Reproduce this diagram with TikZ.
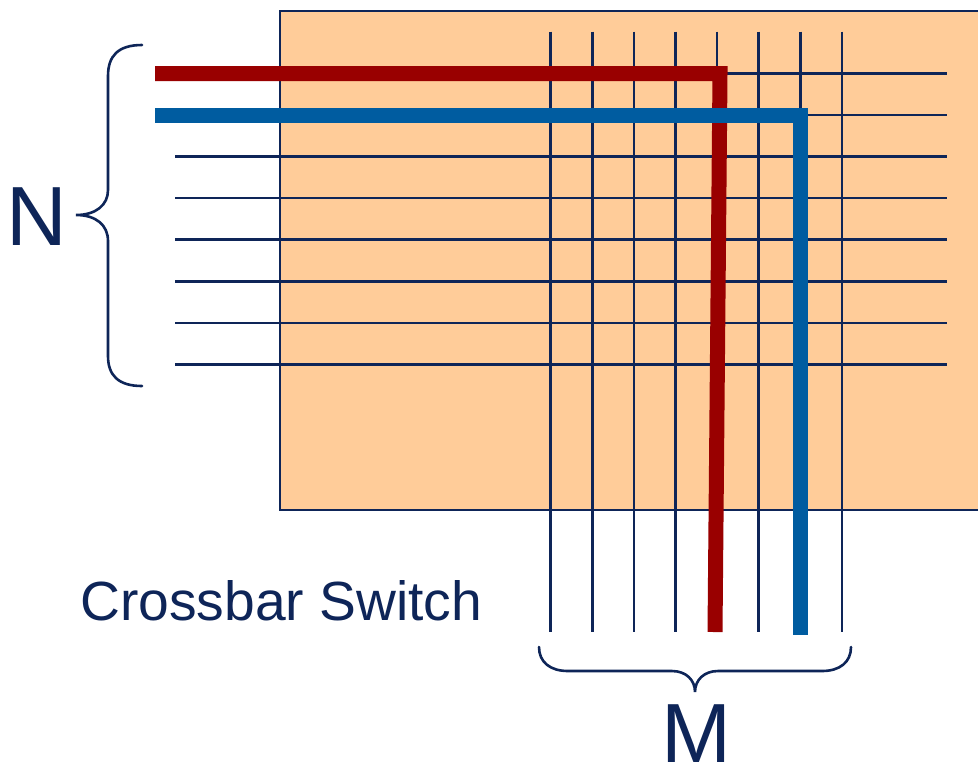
\documentclass[tikz,border=0pt]{standalone}
\usepackage{fontspec}
\setmainfont{Liberation Sans}
\usepackage{tikz}
\usetikzlibrary{calc}
\definecolor{navy}{RGB}{14,37,88}
\definecolor{boxfill}{RGB}{255,204,153}
\definecolor{pathred}{RGB}{153,0,0}
\definecolor{pathblue}{RGB}{0,92,160}
\tikzstyle{wire}=[draw=navy, line width=1.3pt]
\tikzstyle{route}=[line width=7.5pt, line join=miter]
\tikzstyle{curly}=[draw=navy, line width=1.3pt, line cap=round]

\begin{document}
\begin{tikzpicture}[x=0.5pt,y=-0.5pt]
\useasboundingbox (0,0) rectangle (978,762);
\clip (0,0) rectangle (978,762);
% switch box
\draw[fill=boxfill, draw=navy, line width=1.3pt] (280,11) rectangle (1000,510);
% input rows and output columns
\foreach \j in {0,...,7}
  \draw[wire] (175,73.5+41.55*\j) -- (946.5,73.5+41.55*\j);
\foreach \i in {0,...,7}
  \draw[wire] (550.7+41.6*\i,31.5) -- (550.7+41.6*\i,632);
% two routed connections
\coordinate (redin) at (155,73.5);
\coordinate (redturn) at (720,73.5);
\coordinate (redout) at (715,632);
\coordinate (bluein) at (155,115.5);
\coordinate (blueturn) at (800,115.5);
\coordinate (blueout) at (800,635);
\draw[route, pathred] (redin) -- (redturn) -- (redout);
\draw[route, pathblue] (bluein) -- (blueturn) -- (blueout);
% braces
\draw[curly] (142,45) .. controls (118,45) and (108,56) .. (108,76) -- (108,190)
  .. controls (108,205) and (96,215) .. (76,215)
  .. controls (96,215) and (108,225) .. (108,241) -- (108,356)
  .. controls (108,375) and (118,386) .. (142,386);
\draw[curly] (539,647) .. controls (539,662) and (550,671) .. (568,671) -- (672,671)
  .. controls (686,671) and (695,680) .. (695,692)
  .. controls (695,680) and (704,671) .. (718,671) -- (822,671)
  .. controls (840,671) and (851,662) .. (851,647);
% labels
\node[anchor=base, text=navy, font=\fontsize{42pt}{42pt}\selectfont, inner sep=0pt] (nlabel) at (37,245) {N};
\node[anchor=base, text=navy, font=\fontsize{42pt}{42pt}\selectfont, inner sep=0pt] (mlabel) at (696,762) {M};
\node[anchor=base west, text=navy, font=\fontsize{27.6pt}{27.6pt}\selectfont, inner sep=0pt] (title) at (80,620) {Crossbar Switch};
\end{tikzpicture}
\end{document}
